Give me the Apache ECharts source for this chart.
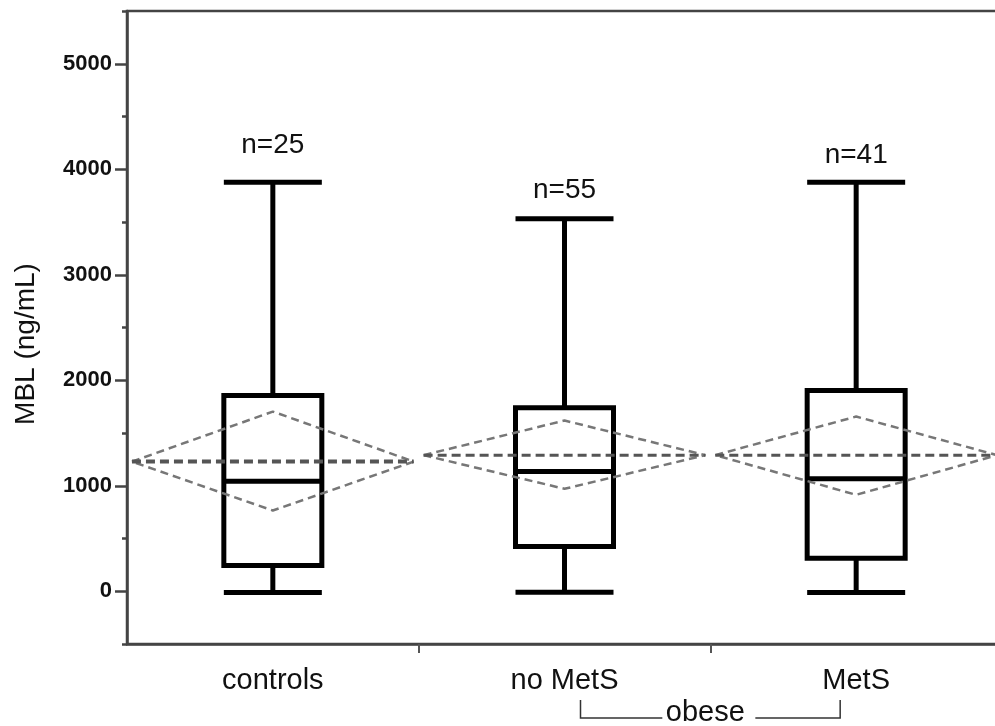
<!DOCTYPE html>
<html>
<head>
<meta charset="utf-8">
<script src="https://cdn.jsdelivr.net/npm/echarts@6/dist/echarts.min.js"></script>
<style>
html,body{margin:0;padding:0;background:#fff;}
#chart{width:995px;height:726px;}
</style>
</head>
<body>
<div id="chart"></div>
<script>
// ---- data ----
const categories = ['controls', 'no MetS', 'MetS'];
const boxMin = [-12, -9, -12];
const boxQ1 = [244, 424, 313];
const boxMedian = [1043, 1135, 1066];
const boxQ3 = [1855, 1739, 1903];
const boxMax = [3877, 3531, 3877];
const meanValues = [1229, 1290, 1290];
const ciUpper = [1703, 1618, 1656];
const ciLower = [765, 971, 914];
const nLabels = ['n=25', 'n=55', 'n=41'];
const nLabelY = [4225, 3800, 4130];
const yTickValues = [0, 1000, 2000, 3000, 4000, 5000];
const yTitle = 'MBL (ng/mL)';
const groupLabel = 'obese';

// ---- styling ----
const FONT = '"Liberation Sans", Arial, Helvetica, sans-serif';
const AXIS_COLOR = '#444';
const DIAMOND_HALF = 0.483; // fraction of a category width

const chart = echarts.init(document.getElementById('chart'), null, {renderer: 'canvas'});

const series = [];
series.push({
  type: 'boxplot',
  xAxisIndex: 0, yAxisIndex: 0,
  boxWidth: [98, 98],
  itemStyle: {color: 'rgba(0,0,0,0)', borderColor: '#000', borderWidth: 5},
  emphasis: {disabled: true},
  z: 2,
  data: categories.map((c, i) => [boxMin[i], boxQ1[i], boxMedian[i], boxQ3[i], boxMax[i]])
});

categories.forEach((c, i) => {
  const cx = i + 0.5;
  series.push({
    type: 'line',
    xAxisIndex: 1, yAxisIndex: 0,
    symbol: 'none', silent: true, z: 4,
    lineStyle: {color: '#777', width: 2.5, type: [8, 5]},
    data: [[cx - DIAMOND_HALF, meanValues[i]], [cx, ciUpper[i]], [cx + DIAMOND_HALF, meanValues[i]],
           [cx, ciLower[i]], [cx - DIAMOND_HALF, meanValues[i]]]
  });
  series.push({
    type: 'line',
    xAxisIndex: 1, yAxisIndex: 0,
    symbol: 'none', silent: true, z: 5,
    lineStyle: {color: '#555', width: i === 0 ? 4 : 3, type: [9, 5]},
    data: [[cx - DIAMOND_HALF, meanValues[i]], [cx + DIAMOND_HALF, meanValues[i]]]
  });
});

series.push({
  type: 'scatter',
  xAxisIndex: 0, yAxisIndex: 0,
  symbolSize: 1,
  itemStyle: {color: 'rgba(0,0,0,0)', opacity: 1},
  silent: true,
  label: {
    show: true, position: 'inside',
    formatter: p => nLabels[p.dataIndex],
    fontFamily: FONT, fontSize: 28, color: '#111', opacity: 1
  },
  data: categories.map((c, i) => [c, nLabelY[i]])
});

chart.setOption({
  animation: false,
  backgroundColor: '#fff',
  grid: {left: 127, right: -7, top: 11, bottom: 82, show: true, outerBoundsMode: 'none',
         containLabel: false,
         borderColor: AXIS_COLOR, borderWidth: 2.5, backgroundColor: 'transparent'},
  xAxis: [{
    type: 'category',
    data: categories,
    axisLine: {onZero: false, lineStyle: {color: AXIS_COLOR, width: 2.5}},
    axisTick: {show: true, length: 9, interval: (idx) => idx !== 0,
               lineStyle: {color: '#555', width: 2}},
    axisLabel: {fontFamily: FONT, fontSize: 29, color: '#111', margin: 22},
    splitLine: {show: false}
  }, {
    type: 'value', min: 0, max: 3, show: false
  }],
  yAxis: [{
    type: 'value',
    min: -500, max: 5500, interval: 500,
    axisLine: {show: true, lineStyle: {color: AXIS_COLOR, width: 2.5}},
    axisTick: {show: true, length: 12, customValues: yTickValues,
               lineStyle: {color: AXIS_COLOR, width: 2.5}},
    axisLabel: {customValues: yTickValues, formatter: v => String(v), fontFamily: FONT, fontSize: 22,
                fontWeight: 'bold', color: '#111', margin: 15},
    splitLine: {show: false}
  }, {
    type: 'value',
    min: -500, max: 5500, interval: 500,
    position: 'left',
    axisLine: {show: false},
    axisTick: {show: true, length: 5, lineStyle: {color: AXIS_COLOR, width: 2.5}},
    axisLabel: {show: false},
    splitLine: {show: false}
  }],
  series: series
});

// annotations: y title and "obese" bracket, positioned from the category scale
const xNo = chart.convertToPixel({xAxisIndex: 0}, categories[1]);
const xMet = chart.convertToPixel({xAxisIndex: 0}, categories[2]);
const bl = xNo + 16, br = xMet - 16;
const bTop = 700, bBot = 718;
const tx = (bl + br) / 2 - 5;
chart.setOption({
  graphic: [
    {type: 'text', x: 26, y: 344, rotation: Math.PI / 2, silent: true,
     style: {text: yTitle, font: '28px ' + FONT, fill: '#111', align: 'center', verticalAlign: 'middle'}},
    {type: 'polyline', silent: true,
     shape: {points: [[bl, bTop], [bl, bBot], [tx - 43, bBot]]},
     style: {stroke: '#333', lineWidth: 1.5, fill: null}},
    {type: 'polyline', silent: true,
     shape: {points: [[tx + 50, bBot], [br, bBot], [br, bTop]]},
     style: {stroke: '#333', lineWidth: 1.5, fill: null}},
    {type: 'text', x: tx, y: 713, silent: true,
     style: {text: groupLabel, font: '29px ' + FONT, fill: '#111', align: 'center', verticalAlign: 'middle'}}
  ]
});
</script>
</body>
</html>
